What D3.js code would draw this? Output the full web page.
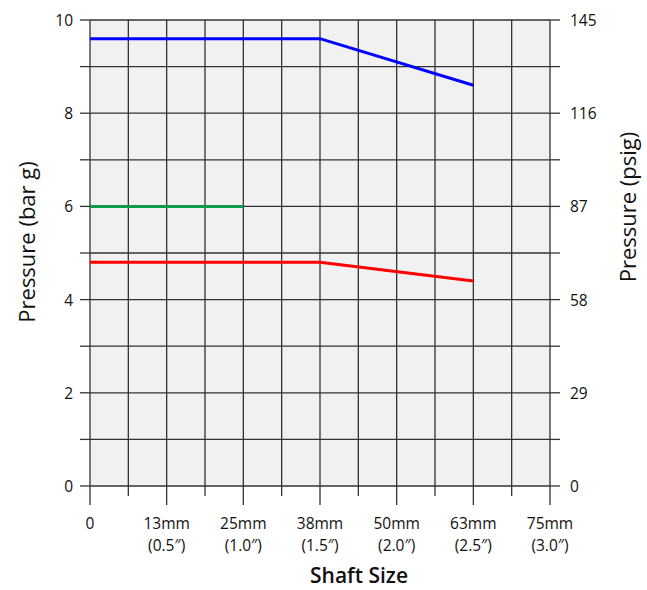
<!DOCTYPE html>
<html><head><meta charset="utf-8">
<script src="https://cdn.jsdelivr.net/npm/d3@7"></script>
<style>body{margin:0;background:#fff;} text{font-family:"Open Sans","Noto Sans",sans-serif;fill:#111;}</style>
</head><body>
<svg id="c" width="647" height="590"></svg>
<script>
// x values in inches
const xTickValues = [0, 0.5, 1.0, 1.5, 2.0, 2.5, 3.0];
const xTickMm = ["0", "13mm", "25mm", "38mm", "50mm", "63mm", "75mm"];
const xTickIn = ["", "(0.5″)", "(1.0″)", "(1.5″)", "(2.0″)", "(2.5″)", "(3.0″)"];
const yLeftTicks = [0, 2, 4, 6, 8, 10];
const yRightLabels = ["0", "29", "58", "87", "116", "145"];
const blueX = [0, 1.5, 2.5];
const blueY = [9.6, 9.6, 8.6];
const greenX = [0, 1.0];
const greenY = [6.0, 6.0];
const redX = [0, 1.5, 2.5];
const redY = [4.8, 4.8, 4.4];

const svg = d3.select("#c");
const L = 90, R = 550, T = 20, B = 486;
const x = d3.scaleLinear().domain([0, 3]).range([L, R]);
const y = d3.scaleLinear().domain([0, 10]).range([B, T]);

svg.append("rect").attr("x", L).attr("y", T).attr("width", R - L).attr("height", B - T).attr("fill", "#f1f1f1");

const minorX = d3.range(0, 3.001, 0.25);
const minorY = d3.range(0, 10.001, 1);
const g = svg.append("g");
g.selectAll(".vx").data(minorX).join("line")
  .attr("x1", d => x(d)).attr("x2", d => x(d)).attr("y1", T).attr("y2", B)
  .attr("stroke", "#333").attr("stroke-width", 1.3);
g.selectAll(".hy").data(minorY).join("line")
  .attr("x1", L).attr("x2", R).attr("y1", d => y(d)).attr("y2", d => y(d))
  .attr("stroke", "#333").attr("stroke-width", 1.3);

// tick marks
g.selectAll(".tb").data(minorX).join("line")
  .attr("x1", d => x(d)).attr("x2", d => x(d)).attr("y1", B)
  .attr("y2", (d, i) => i % 2 === 0 ? 505 : 496)
  .attr("stroke", "#333").attr("stroke-width", 1.3);
g.selectAll(".tl").data(minorY).join("line")
  .attr("x1", L - 10).attr("x2", L).attr("y1", d => y(d)).attr("y2", d => y(d))
  .attr("stroke", "#333").attr("stroke-width", 1.3);
g.selectAll(".tr").data(minorY).join("line")
  .attr("x1", R).attr("x2", R + 10).attr("y1", d => y(d)).attr("y2", d => y(d))
  .attr("stroke", "#333").attr("stroke-width", 1.3);

// labels
const fs = 15.5;
svg.selectAll(".xl").data(xTickValues).join("text")
  .attr("x", d => x(d)).attr("y", 529).attr("text-anchor", "middle")
  .attr("font-size", fs).text((d, i) => xTickMm[i]);
svg.selectAll(".xl2").data(xTickValues).join("text")
  .attr("x", d => x(d)).attr("y", 551).attr("text-anchor", "middle")
  .attr("font-size", fs).text((d, i) => xTickIn[i]);
svg.selectAll(".yl").data(yLeftTicks).join("text")
  .attr("x", 73).attr("y", d => y(d) + 6).attr("text-anchor", "end")
  .attr("font-size", fs).text(d => d);
svg.selectAll(".yr").data(yLeftTicks).join("text")
  .attr("x", 570).attr("y", d => y(d) + 6).attr("text-anchor", "start")
  .attr("font-size", fs).text((d, i) => yRightLabels[i]);

svg.append("text").attr("x", 359).attr("y", 583).attr("text-anchor", "middle")
  .attr("font-size", 21).attr("font-weight", 600).text("Shaft Size");
svg.append("text").attr("transform", "translate(35,242) rotate(-90)").attr("text-anchor", "middle")
  .attr("font-size", 22).text("Pressure (bar g)");
svg.append("text").attr("transform", "translate(636,207) rotate(-90)").attr("text-anchor", "middle")
  .attr("font-size", 22).text("Pressure (psig)");

const line = d3.line().x(d => x(d[0])).y(d => y(d[1]));
const series = [
  {xs: blueX, ys: blueY, c: "#0000ff"},
  {xs: greenX, ys: greenY, c: "#0c9a4c"},
  {xs: redX, ys: redY, c: "#ff0000"}
];
series.forEach(s => {
  svg.append("path").datum(s.xs.map((v, i) => [v, s.ys[i]]))
    .attr("d", line).attr("fill", "none").attr("stroke", s.c).attr("stroke-width", 3);
});
</script>
</body></html>
